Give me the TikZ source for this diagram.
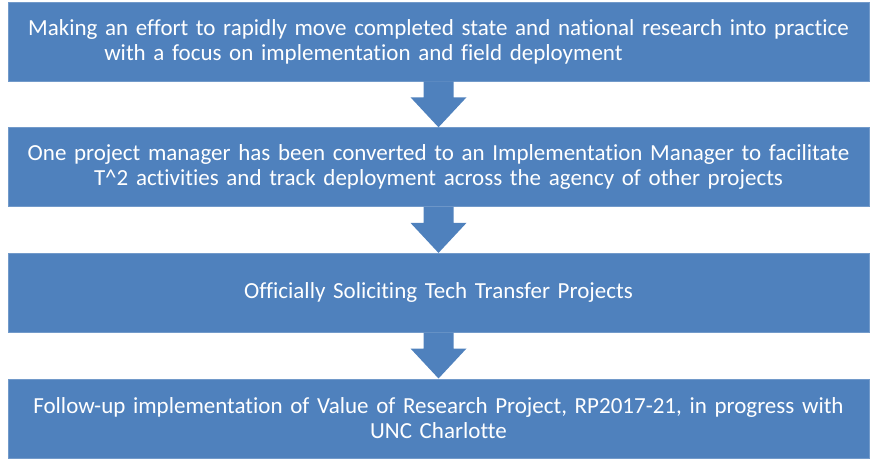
\documentclass[tikz,border=0pt]{standalone}
\usepackage{fontspec}
\setmainfont{Carlito}[Ligatures={NoCommon}]
\usetikzlibrary{positioning}
\definecolor{boxblue}{HTML}{4F81BD}
\tikzset{
  procbox/.style={fill=boxblue, draw=boxblue!80!white, line width=0.6pt,
    minimum width=861pt, minimum height=79pt, inner sep=0pt,
    text width=850pt, align=center, text=white,
    font=\fontsize{23}{25}\selectfont},
}
\begin{document}
\begin{tikzpicture}[x=1pt,y=-1pt]
  \useasboundingbox (0,0) rectangle (870,458);

  % Process boxes
  \node[procbox] (b1) at (438.5,41.5)
    {Making an effort to rapidly move completed state and national research into practice\\
     with a focus on implementation and field deployment\hspace{150pt}\null};
  \node[procbox, below=46pt of b1] (b2)
    {One project manager has been converted to an Implementation Manager to facilitate\\
     T\^{}2 activities and track deployment across the agency of other projects};
  \node[procbox, below=46pt of b2] (b3)
    {Officially Soliciting Tech Transfer Projects};
  \node[procbox, below=46pt of b3] (b4)
    {Follow-up implementation of Value of Research Project, RP2017-21, in progress with\\
     UNC Charlotte};

  % Block arrows between boxes
  \foreach \a/\b in {b1/b2,b2/b3,b3/b4}
    \fill[boxblue] ([xshift=-15pt]\a.south) -- ([xshift=15pt]\a.south)
      -- ([xshift=15pt,yshift=-16pt]\a.south) -- ([xshift=28pt,yshift=-16pt]\a.south)
      -- (\b.north) -- ([xshift=-28pt,yshift=-16pt]\a.south)
      -- ([xshift=-15pt,yshift=-16pt]\a.south) -- cycle;
\end{tikzpicture}
\end{document}
